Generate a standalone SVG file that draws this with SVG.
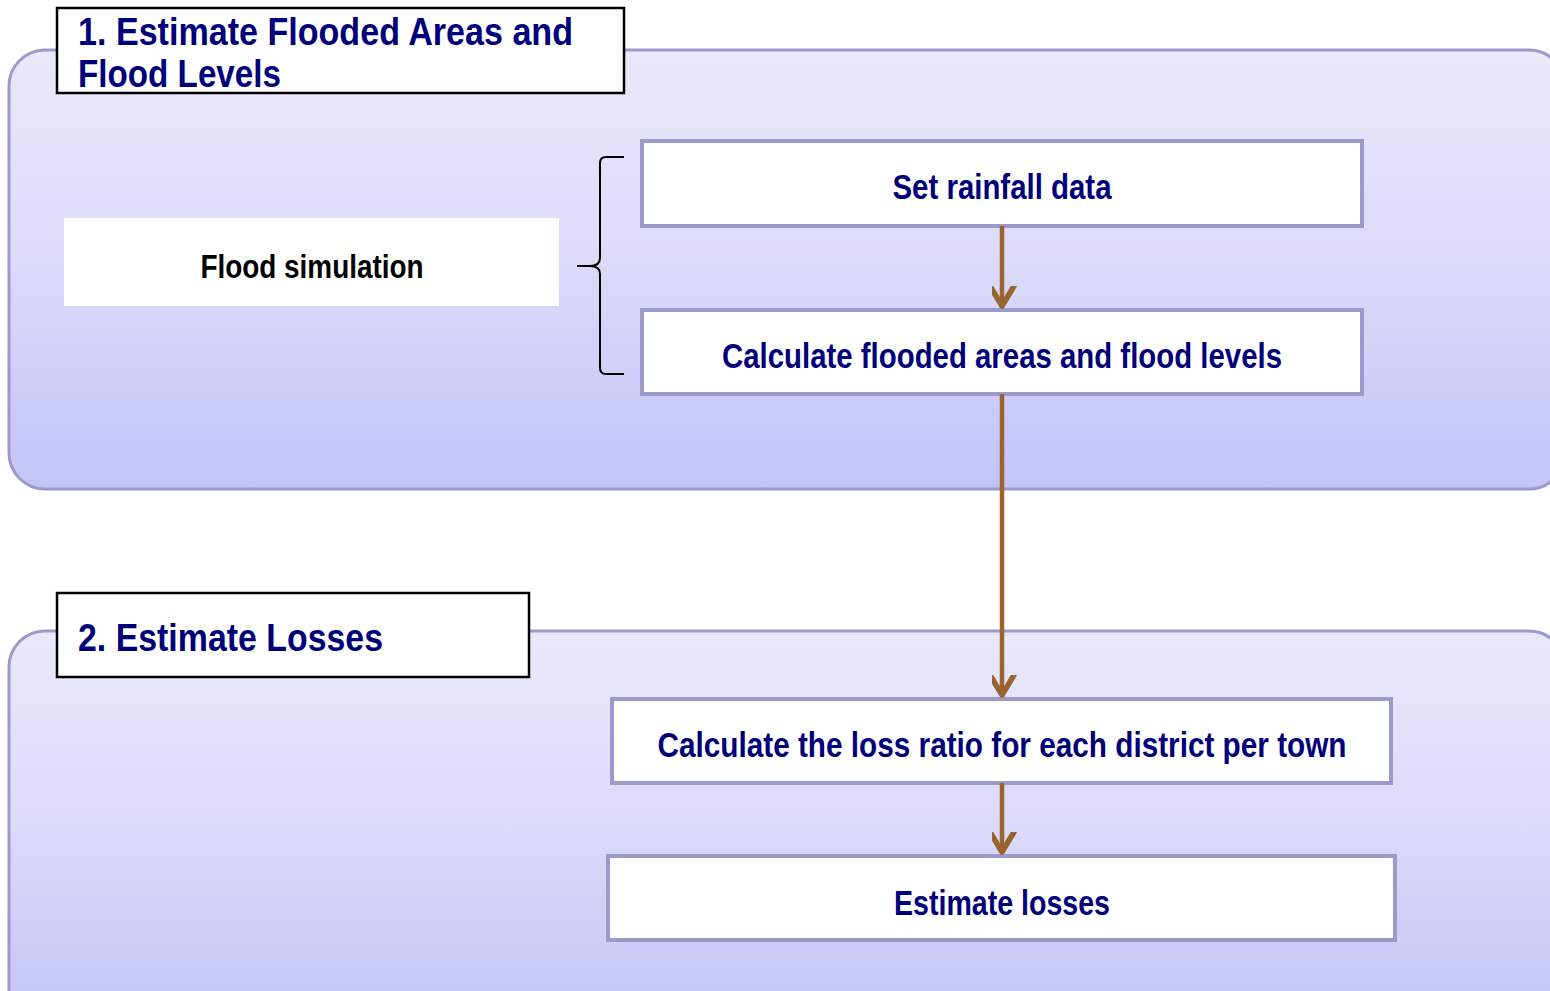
<svg xmlns="http://www.w3.org/2000/svg" width="1550" height="991" viewBox="0 0 1550 991">
  <defs>
    <linearGradient id="panelFill" x1="0" y1="0" x2="0" y2="1">
      <stop offset="0" stop-color="#e9e9fb"/>
      <stop offset="0.45" stop-color="#dcdcf9"/>
      <stop offset="1" stop-color="#c3c3f7"/>
    </linearGradient>
    <marker id="vhead" markerUnits="userSpaceOnUse" markerWidth="40" markerHeight="40" viewBox="-20 -30 40 40" refX="0" refY="0" orient="auto-start-reverse">
      <path d="M -12 -20 L 0 0 L 12 -20" fill="none" stroke="#99642f" stroke-width="5.5" stroke-linecap="round" stroke-linejoin="round" transform="rotate(-90)"/>
    </marker>
    <style>
      .panel { fill: url(#panelFill); stroke: #9a9acb; stroke-width: 3; }
      .title { fill: #ffffff; stroke: #000000; stroke-width: 2.5; }
      .title-text { font-family: "Liberation Sans", Arial, sans-serif; font-weight: bold; font-size: 39px; fill: #00007a; }
      .step { fill: #ffffff; stroke: #9a9acb; stroke-width: 4; }
      .step-text { font-family: "Liberation Sans", Arial, sans-serif; font-weight: bold; font-size: 34.5px; fill: #00007a; text-anchor: middle; }
      .label-text { font-family: "Liberation Sans", Arial, sans-serif; font-weight: bold; font-size: 34px; fill: #000000; text-anchor: middle; }
      .flow { fill: none; stroke: #99642f; stroke-width: 4.5; }
      .brace { fill: none; stroke: #000000; stroke-width: 2; }
    </style>
  </defs>

  <!-- Stage panels -->
  <g id="panel-1">
    <rect class="panel" x="9" y="50" width="1556" height="439" rx="36" ry="36"/>
  </g>
  <g id="panel-2">
    <rect class="panel" x="9" y="631" width="1556" height="400" rx="36" ry="36"/>
  </g>

  <!-- Stage headings -->
  <g id="title-1">
    <rect class="title" x="57" y="8" width="567" height="85"/>
    <text class="title-text" x="78" y="45" textLength="495" lengthAdjust="spacingAndGlyphs">1. Estimate Flooded Areas and</text>
    <text class="title-text" x="78" y="87" textLength="203" lengthAdjust="spacingAndGlyphs">Flood Levels</text>
  </g>
  <g id="title-2">
    <rect class="title" x="57" y="593" width="472" height="84"/>
    <text class="title-text" x="78" y="651" textLength="305" lengthAdjust="spacingAndGlyphs">2. Estimate Losses</text>
  </g>

  <!-- Flood simulation label with brace -->
  <g id="flood-simulation">
    <rect x="64" y="218" width="495" height="88" fill="#ffffff"/>
    <text class="label-text" x="312" y="278" textLength="223" lengthAdjust="spacingAndGlyphs">Flood simulation</text>
    <path class="brace" d="M 624 157 L 606 157 Q 600 157 600 163 L 600 258 Q 600 266 590 266 L 577 266 M 590 266 Q 600 266 600 274 L 600 368 Q 600 374 606 374 L 624 374"/>
  </g>

  <!-- Process steps -->
  <g id="step-rainfall">
    <rect class="step" x="642" y="141" width="720" height="85"/>
    <text class="step-text" x="1002" y="199" textLength="219" lengthAdjust="spacingAndGlyphs">Set rainfall data</text>
  </g>
  <g id="step-flooded-areas">
    <rect class="step" x="642" y="310" width="720" height="84"/>
    <text class="step-text" x="1002" y="368" textLength="560" lengthAdjust="spacingAndGlyphs">Calculate flooded areas and flood levels</text>
  </g>
  <g id="step-loss-ratio">
    <rect class="step" x="612" y="699" width="779" height="84"/>
    <text class="step-text" x="1002" y="757" textLength="689" lengthAdjust="spacingAndGlyphs">Calculate the loss ratio for each district per town</text>
  </g>
  <g id="step-losses">
    <rect class="step" x="608" y="856" width="787" height="84"/>
    <text class="step-text" x="1002" y="915" textLength="216" lengthAdjust="spacingAndGlyphs">Estimate losses</text>
  </g>

  <!-- Connectors -->
  <g id="connectors">
    <line class="flow" x1="1002" y1="226" x2="1002" y2="306" marker-end="url(#vhead)"/>
    <line class="flow" x1="1002" y1="394" x2="1002" y2="695" marker-end="url(#vhead)"/>
    <line class="flow" x1="1002" y1="783" x2="1002" y2="852" marker-end="url(#vhead)"/>
  </g>
</svg>
